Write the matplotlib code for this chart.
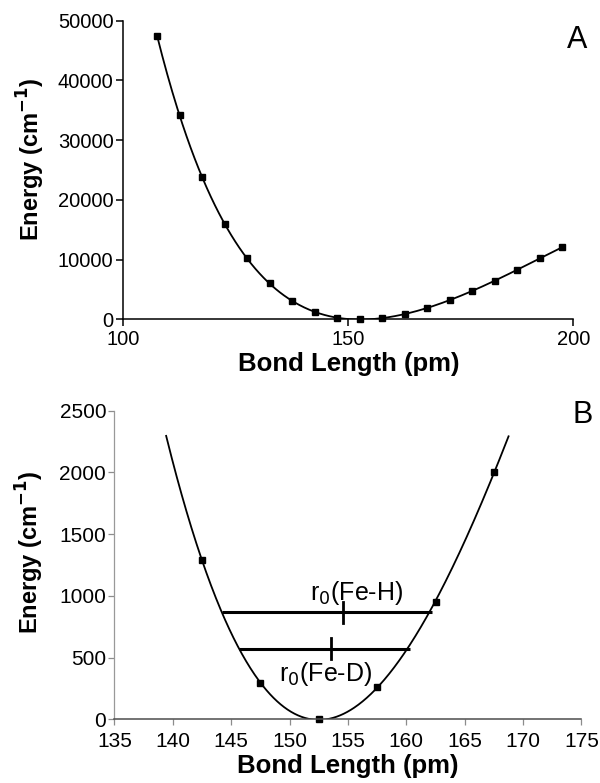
import numpy as np
import matplotlib
matplotlib.use("Agg")
import matplotlib.pyplot as plt

plt.rcParams['font.family'] = ['Liberation Sans', 'DejaVu Sans']

# Panel A: computed energies along the Fe-H coordinate
bond_a = [107.5, 112.5, 117.5, 122.5, 127.5, 132.5, 137.5, 142.5, 147.5, 152.5,
          157.5, 162.5, 167.5, 172.5, 177.5, 182.5, 187.5, 192.5, 197.5]
energy_a = [47500, 34150, 23850, 16000, 10200, 6000, 3100, 1200, 300, 0,
            200, 850, 1850, 3250, 4750, 6450, 8250, 10200, 12050]

# Panel B: close-up near the minimum
bond_b = [142.5, 147.5, 152.5, 157.5, 162.5, 167.5]
energy_b = [1290, 290, 0, 260, 950, 2000]

# zero-point levels: (energy, left end, right end, r0)
level_feh = (865, 144.25, 162.2, 154.6)
level_fed = (573, 145.7, 160.3, 153.55)

# fitted potential curve through the panel A points
c = np.mean(bond_a)
coef = np.polyfit(np.array(bond_a) - c, energy_a, 7)
xa = np.linspace(min(bond_a), max(bond_a), 400)
ya = np.polyval(coef, xa - c)

# local fit for the close-up: B points plus their outer neighbours from A
near_x = [bond_a[6]] + bond_b + [bond_a[13]]
near_y = [energy_a[6]] + energy_b + [energy_a[13]]
cb = 152.5
coef_b = np.polyfit(np.array(near_x) - cb, near_y, 4)
xb = np.linspace(136, 172, 600)
yb = np.polyval(coef_b, xb - cb)
keep = yb <= 2300
xb, yb = xb[keep], yb[keep]

fig = plt.figure(figsize=(6, 7.83), dpi=100)
ax1 = fig.add_axes([0.2055, 0.5922, 0.75, 0.3814])
ax2 = fig.add_axes([0.1908, 0.0814, 0.7783, 0.3941])

# ---- panel A
ax1.plot(xa, ya, color='black', lw=1.3)
ax1.plot(bond_a, energy_a, 's', color='black', ms=4, clip_on=False)
ax1.set_xlim(100, 200)
ax1.set_ylim(0, 50000)
ax1.set_xticks([100, 150, 200])
ax1.set_yticks(range(0, 50001, 10000))
ax1.spines['top'].set_visible(False)
ax1.spines['right'].set_visible(False)
ax1.spines['left'].set_linewidth(1.1)
ax1.spines['bottom'].set_linewidth(1.1)
ax1.tick_params(labelsize=14.5, length=5, width=1.1)
ax1.tick_params(axis='x', pad=3)
ax1.tick_params(axis='y', pad=2)
ax1.set_xlabel('Bond Length (pm)', fontsize=18.5, fontweight='bold')
ax1.set_ylabel('Energy (cm$^{\\mathbf{-1}}$)', fontsize=17, fontweight='bold')
ax1.xaxis.set_label_coords(0.5, -0.108)
ax1.yaxis.set_label_coords(-0.170, 0.537)
fig.text(576.7 / 600, 1 - 40.5 / 783, 'A', fontsize=22, ha='center', va='center')

# ---- panel B
ax2.plot(xb, yb, color='black', lw=1.3)
ax2.plot(bond_b, energy_b, 's', color='black', ms=4, clip_on=False)
for lev in (level_feh, level_fed):
    e, x0, x1, r0 = lev
    ax2.plot([x0, x1], [e, e], color='black', lw=2.2, solid_capstyle='butt')
    ax2.plot([r0, r0], [e - 85, e + 85], color='black', lw=2.0)
ax2.text(155.7, 1025, 'r$_0$(Fe-H)', fontsize=18, ha='center', va='center')
ax2.text(153.1, 367, 'r$_0$(Fe-D)', fontsize=18, ha='center', va='center')
ax2.set_xlim(135, 175)
ax2.set_ylim(0, 2500)
ax2.set_xticks(range(135, 176, 5))
ax2.set_yticks(range(0, 2501, 500))
ax2.spines['top'].set_visible(False)
ax2.spines['right'].set_visible(False)
ax2.spines['left'].set_color('0.6')
ax2.spines['left'].set_linestyle((0, (2, 1)))
ax2.spines['left'].set_linewidth(0.9)
ax2.spines['bottom'].set_color('0.3')
ax2.spines['bottom'].set_linewidth(1.1)
ax2.tick_params(labelsize=15, length=4, width=0.9, color='0.55')
ax2.tick_params(axis='x', pad=5)
ax2.tick_params(axis='y', pad=2)
ax2.set_xlabel('Bond Length (pm)', fontsize=18.5, fontweight='bold')
ax2.set_ylabel('Energy (cm$^{\\mathbf{-1}}$)', fontsize=17, fontweight='bold')
ax2.xaxis.set_label_coords(0.5, -0.114)
ax2.yaxis.set_label_coords(-0.146, 0.542)
fig.text(583 / 600, 1 - 415 / 783, 'B', fontsize=22, ha='center', va='center')

fig.savefig('out.png', dpi=100)
